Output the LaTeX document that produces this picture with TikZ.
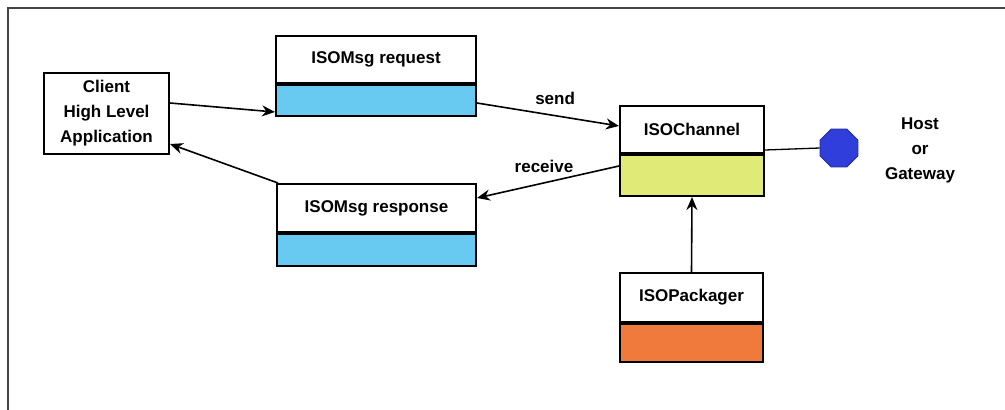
\documentclass[tikz,border=0pt]{standalone}
\usepackage{fontspec}
\setmainfont{Liberation Sans}
\usetikzlibrary{arrows.meta,shapes.geometric}
\definecolor{msgblue}{RGB}{104,202,240}
\definecolor{chanyellow}{RGB}{224,234,118}
\definecolor{packorange}{RGB}{240,122,60}
\definecolor{hostblue}{RGB}{48,62,220}
\definecolor{framegray}{RGB}{70,66,70}
\begin{document}
\begin{tikzpicture}[x=1pt,y=-1pt,
  font=\fontsize{17}{25}\selectfont\bfseries,
  classtop/.style={draw,line width=2pt,fill=white,anchor=north west,inner sep=0pt},
  classbot/.style={draw,line width=2pt,anchor=north west,inner sep=0pt},
  conn/.style={line width=1.6pt,-{Stealth[length=13pt,width=11pt]}},
  lbl/.style={inner sep=1pt}]
\useasboundingbox (0,0) rectangle (1005,410);
% outer frame (top and left edges)
\draw[framegray,line width=2.4pt] (8,410) -- (8,8) -- (1005,8);

% client application
\node[draw,line width=2pt,anchor=north west,minimum width=125pt,minimum height=81pt,
      align=center,inner sep=0pt] (client) at (43,72) {Client\\High Level\\Application};

% ISOMsg request
\node[classtop,minimum width=200pt,minimum height=47pt] (req) at (275,35) {ISOMsg request};
\node[classbot,fill=msgblue,minimum width=200pt,minimum height=31pt] (reqb) at (req.south west) {};

% ISOMsg response
\node[classtop,minimum width=199pt,minimum height=48pt] (resp) at (276,183) {ISOMsg response};
\node[classbot,fill=msgblue,minimum width=199pt,minimum height=32pt] (respb) at (resp.south west) {};

% ISOChannel
\node[classtop,minimum width=144pt,minimum height=47pt] (chan) at (619,105) {ISOChannel};
\node[classbot,fill=chanyellow,minimum width=144pt,minimum height=41pt] (chanb) at (chan.south west) {};

% ISOPackager
\node[classtop,minimum width=143pt,minimum height=49pt] (pack) at (619,272) {ISOPackager};
\node[classbot,fill=packorange,minimum width=143pt,minimum height=38pt] (packb) at (pack.south west) {};

% host endpoint
\node[regular polygon,regular polygon sides=8,minimum size=41pt,inner sep=0pt,
      fill=hostblue,draw=hostblue!70!black,line width=0.8pt] (host) at (839,148) {};
\node[align=center,inner sep=0pt] (hostlbl) at (920,150) {Host\\or\\Gateway};

% connectors
\draw[conn] ([yshift=10.5pt]client.east) -- ([yshift=-11.5pt]reqb.west);
\draw[conn] ([yshift=-2.5pt]reqb.east) -- node[lbl,pos=0.55,above=9pt] (sendlbl) {send} ([yshift=3.5pt]chan.west);
\draw[conn] ([yshift=9.5pt]chanb.west) -- node[lbl,pos=0.5,above=8pt,xshift=-4pt] (recvlbl) {receive} ([yshift=10pt]resp.east);
\draw[conn] ([xshift=2pt]resp.north west) -- ([yshift=11pt]client.south east);
\draw[conn] (pack.north) -- (chanb.south);
\draw[line width=1.3pt] ([yshift=4pt]chan.south east) -- (host.west);
\end{tikzpicture}
\end{document}
